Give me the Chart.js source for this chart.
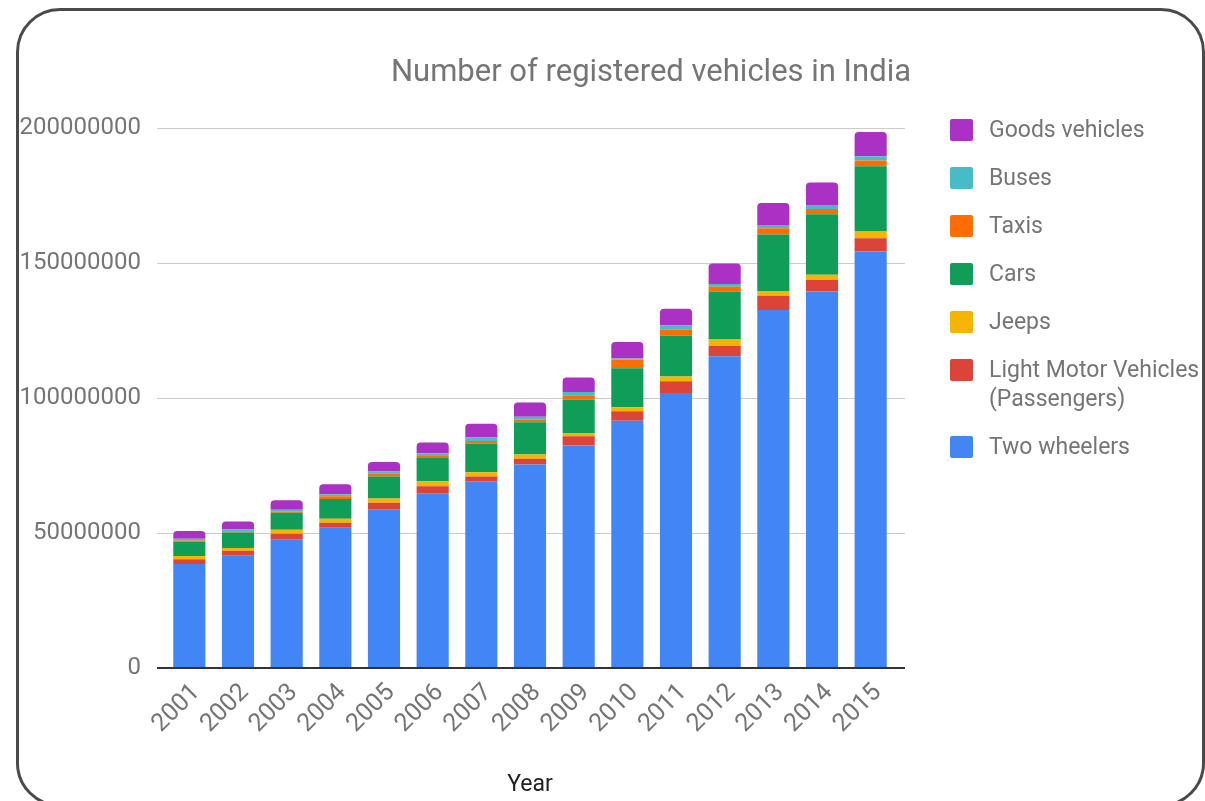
<!DOCTYPE html>
<html>
<head>
<meta charset="utf-8">
<script src="https://cdn.jsdelivr.net/npm/chart.js@4.4.1/dist/chart.umd.min.js"></script>
<style>
  html, body { margin: 0; padding: 0; background: #fff; }
  #wrap { position: relative; width: 1205px; height: 801px; overflow: hidden; font-family: Roboto, sans-serif; }
  #frame {
    position: absolute; left: 16px; top: 8px; width: 1183px; height: 793px;
    border: 3px solid #4a4a4a; border-radius: 44px; pointer-events: none;
  }
  #chart { position: absolute; left: 0; top: 0; }
  #title {
    position: absolute; left: 0; top: 52px; width: 1302px; text-align: center;
    font-size: 31px; color: #757575;
  }
  #legend { position: absolute; left: 950px; top: 115px; }
  .item { display: flex; align-items: flex-start; margin-bottom: 19px; }
  .sw { width: 23px; height: 22px; border-radius: 2px; margin-top: 4px; margin-right: 16px; flex: none; }
  .lbl { font-size: 23px; line-height: 29px; color: #757575; }
</style>
</head>
<body>
<div id="wrap">
  <canvas id="chart" width="1205" height="801"></canvas>
  <div id="title">Number of registered vehicles in India</div>
  <div id="legend"></div>
  <div id="frame"></div>
</div>
<script>
// Registered vehicles per year, by type
const years = ['2001','2002','2003','2004','2005','2006','2007','2008','2009','2010','2011','2012','2013','2014','2015'];

const twoWheelers = [38556000, 41581000, 47519000, 51922000, 58799000, 64743000, 69129000, 75336000, 82402000, 91598000, 101865000, 115419000, 132550000, 139410000, 154298000];
const lmvPassengers = [1700000, 1850000, 2200000, 1850000, 2450000, 2600000, 1800000, 2200000, 3400000, 3500000, 4300000, 3900000, 5300000, 4300000, 4900000];
const jeeps = [1250000, 1000000, 1500000, 1500000, 1500000, 1800000, 1600000, 1500000, 1200000, 1500000, 1800000, 2500000, 1800000, 1900000, 2500000];
const cars = [5300000, 5800000, 6300000, 7300000, 8150000, 8600000, 10500000, 12000000, 12400000, 14400000, 15200000, 17600000, 20900000, 22400000, 24100000];
const taxis = [400000, 400000, 400000, 1000000, 1000000, 800000, 1000000, 1000000, 1600000, 3300000, 2100000, 1800000, 2300000, 2000000, 2200000];
const buses = [630000, 640000, 720000, 770000, 890000, 990000, 1350000, 1000000, 1200000, 300000, 1600000, 1000000, 1200000, 1500000, 1500000];
const goodsVehicles = [2950000, 2970000, 3490000, 3750000, 3500000, 4000000, 5100000, 5300000, 5400000, 6150000, 6200000, 7600000, 8200000, 8300000, 9000000];

const yTicks = [0, 50000000, 100000000, 150000000, 200000000];

// bottom of the stack first
const series = [
  { label: 'Two wheelers', data: twoWheelers, color: '#4285F4' },
  { label: 'Light Motor Vehicles (Passengers)', data: lmvPassengers, color: '#DB4437' },
  { label: 'Jeeps', data: jeeps, color: '#F4B400' },
  { label: 'Cars', data: cars, color: '#0F9D58' },
  { label: 'Taxis', data: taxis, color: '#FF6D00' },
  { label: 'Buses', data: buses, color: '#46BDC6' },
  { label: 'Goods vehicles', data: goodsVehicles, color: '#AB30C4' }
];

const datasets = series.map((s, i) => ({
  label: s.label,
  data: s.data,
  backgroundColor: s.color,
  borderWidth: 0,
  borderSkipped: false,
  borderRadius: i === series.length - 1 ? { topLeft: 4, topRight: 4, bottomLeft: 0, bottomRight: 0 } : 0,
  barPercentage: 0.66,
  categoryPercentage: 1.0
}));

// legend, top of the stack first
const legend = document.getElementById('legend');
series.slice().reverse().forEach(s => {
  const item = document.createElement('div');
  item.className = 'item';
  const sw = document.createElement('div');
  sw.className = 'sw';
  sw.style.background = s.color;
  const lbl = document.createElement('div');
  lbl.className = 'lbl';
  lbl.innerHTML = s.label === 'Light Motor Vehicles (Passengers)' ? 'Light Motor Vehicles<br>(Passengers)' : s.label;
  item.appendChild(sw);
  item.appendChild(lbl);
  legend.appendChild(item);
});

// gridlines run a little past the bars on both sides
const GRID_LEFT = 157, GRID_RIGHT = 905;
const wideGrid = {
  id: 'wideGrid',
  beforeDatasetsDraw(chart) {
    const c = chart.ctx, y = chart.scales.y;
    c.save();
    c.strokeStyle = '#cccccc';
    c.lineWidth = 1;
    yTicks.forEach(v => {
      if (v === 0) return;
      const py = Math.round(y.getPixelForValue(v)) + 0.5;
      c.beginPath(); c.moveTo(GRID_LEFT, py); c.lineTo(GRID_RIGHT, py); c.stroke();
    });
    c.restore();
  },
  afterDatasetsDraw(chart) {
    const c = chart.ctx, py = chart.scales.y.getPixelForValue(0);
    c.save();
    c.strokeStyle = '#333333';
    c.lineWidth = 2;
    c.beginPath(); c.moveTo(GRID_LEFT, py); c.lineTo(GRID_RIGHT, py); c.stroke();
    c.restore();
  }
};

const ctx = document.getElementById('chart').getContext('2d');
new Chart(ctx, {
  type: 'bar',
  data: { labels: years, datasets: datasets },
  plugins: [wideGrid],
  options: {
    responsive: false,
    animation: false,
    layout: { padding: { left: 0, top: 128, right: 310, bottom: 0 } },
    plugins: { legend: { display: false }, tooltip: { enabled: false } },
    scales: {
      x: {
        stacked: true,
        grid: { display: false, drawTicks: false },
        border: { display: false },
        ticks: {
          color: '#757575',
          font: { family: 'Roboto', size: 25 },
          minRotation: 45,
          maxRotation: 45,
          padding: 10,
          labelOffset: 7
        },
        title: {
          display: true, text: 'Year', color: '#222',
          font: { family: 'Roboto', size: 23 },
          padding: { top: 0, bottom: 2 }
        },
        afterFit: scale => { scale.height = 133; }
      },
      y: {
        stacked: true,
        min: 0,
        max: 200000000,
        afterBuildTicks: scale => { scale.ticks = yTicks.map(v => ({ value: v })); },
        grid: { display: false, drawTicks: false },
        border: { display: false },
        ticks: {
          color: '#757575',
          font: { family: 'Roboto', size: 24 },
          padding: 24,
          callback: v => String(v)
        },
        afterFit: scale => { scale.width = 165; }
      }
    }
  }
});
</script>
</body>
</html>
